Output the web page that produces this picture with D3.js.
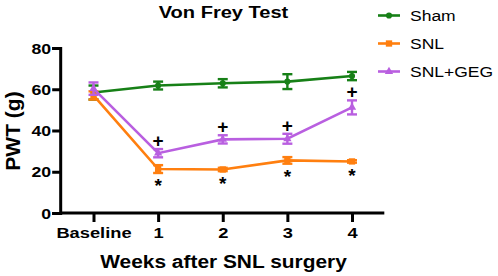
<!DOCTYPE html>
<html><head><meta charset="utf-8">
<script src="https://cdn.jsdelivr.net/npm/d3@7"></script>
<style>body{margin:0;background:#fff;}svg{display:block;font-family:"Liberation Sans",Arial,sans-serif;}</style>
</head><body><svg id="c" width="498" height="276"></svg>
<script>
const categories = ["Baseline","1","2","3","4"];
const shamMean = [58.4, 61.8, 62.9, 63.7, 66.4];
const shamErr  = [3.4, 1.9, 2.0, 3.6, 2.0];
const snlMean  = [57.0, 21.3, 21.1, 25.5, 25.0];
const snlErr   = [2.0, 1.9, 0.8, 1.6, 0.6];
const gegMean  = [60.3, 29.0, 35.7, 36.0, 51.2];
const gegErr   = [3.0, 2.0, 2.0, 2.4, 3.4];
const yTicks = [0,20,40,60,80];
const seriesNames = ["Sham","SNL","SNL+GEG"];
const plusIdx = [1,2,3,4];
const starIdx = [1,2,3,4];

const colors = {"Sham":"#178017","SNL":"#ff7f0f","SNL+GEG":"#b95fe0"};
const series = [
  {name:"Sham", mean:shamMean, err:shamErr, sym:d3.symbolCircle, size:30},
  {name:"SNL", mean:snlMean, err:snlErr, sym:d3.symbolSquare, size:40},
  {name:"SNL+GEG", mean:gegMean, err:gegErr, sym:d3.symbolTriangle, size:30}
];
const FONT = "'Liberation Sans',Arial,sans-serif";

const svg = d3.select("#c");
const x = d3.scalePoint().domain(categories).range([93.5, 352]);
const step = x.step();
const y = d3.scaleLinear().domain([0,80]).range([213, 48]);
const xL = x(categories[0]) - step/2 - 1, xR = x(categories[4]) + step/2;

// axes
const gy = svg.append("g").attr("transform",`translate(${xL},0)`)
  .call(d3.axisLeft(y).tickValues(yTicks).tickSize(8).tickPadding(2));
const gx = svg.append("g").attr("transform",`translate(0,${y(0)})`)
  .call(d3.axisBottom(x).tickSize(9).tickPadding(8));
gx.select(".domain").attr("d",`M${xL},0H${xR}`);
[gy,gx].forEach(g=>{
  g.select(".domain").attr("stroke","#000").attr("stroke-width",3);
  g.selectAll(".tick line").attr("stroke","#000").attr("stroke-width",3);
  g.selectAll("text").attr("fill","#000").attr("font-weight","bold").attr("font-family",FONT);
});
gy.selectAll("text").attr("font-size",14.5).attr("x",0).attr("dy","0.36em")
  .attr("transform","translate(-9,0) scale(1.22,1)");
gx.selectAll("text").attr("font-size",15.5).attr("y",0).attr("dy",0)
  .attr("transform","translate(0,24.7) scale(1.18,1)");

// lines, error bars, markers
series.forEach(s=>{
  const c = colors[s.name];
  const pts = categories.map((k,i)=>({k, m:s.mean[i], e:s.err[i]}));
  svg.append("path").datum(pts).attr("fill","none").attr("stroke",c).attr("stroke-width",2.6)
    .attr("d", d3.line().x(d=>x(d.k)).y(d=>y(d.m)));
  const eb = svg.append("g").attr("stroke",c).attr("stroke-width",2.4);
  pts.forEach(d=>{
    const cx = x(d.k);
    eb.append("line").attr("x1",cx).attr("x2",cx).attr("y1",y(d.m+d.e)).attr("y2",y(d.m-d.e));
    eb.append("line").attr("x1",cx-5).attr("x2",cx+5).attr("y1",y(d.m+d.e)).attr("y2",y(d.m+d.e));
    eb.append("line").attr("x1",cx-5).attr("x2",cx+5).attr("y1",y(d.m-d.e)).attr("y2",y(d.m-d.e));
  });
  svg.append("g").selectAll("path").data(pts).join("path")
    .attr("transform",d=>`translate(${x(d.k)},${y(d.m)})`)
    .attr("d", d3.symbol().type(s.sym).size(s.size)).attr("fill",c);
});

// significance marks
plusIdx.forEach(i=>{
  svg.append("text").attr("x",x(categories[i])).attr("y",y(gegMean[i]+gegErr[i])-2)
    .attr("text-anchor","middle").attr("font-size",19).attr("font-weight","bold").text("+");
});
starIdx.forEach(i=>{
  svg.append("text").attr("x",x(categories[i])).attr("y",y(snlMean[i]-snlErr[i])+19)
    .attr("text-anchor","middle").attr("font-size",19).attr("font-weight","bold").text("*");
});

// titles
svg.append("text").attr("transform","translate(223.5,18) scale(1.18,1)").attr("text-anchor","middle")
  .attr("font-size",17).attr("font-weight","bold").text("Von Frey Test");
svg.append("text").attr("transform","translate(20,131) rotate(-90)").attr("text-anchor","middle")
  .attr("font-size",21).attr("font-weight","bold").text("PWT (g)");
svg.append("text").attr("transform","translate(223.5,267.5) scale(1.1,1)").attr("text-anchor","middle")
  .attr("font-size",19).attr("font-weight","bold").text("Weeks after SNL surgery");

// legend
const lg = svg.append("g");
series.forEach((s,i)=>{
  const ly = 15.5 + i*28;
  const c = colors[s.name];
  lg.append("line").attr("x1",378).attr("x2",400).attr("y1",ly).attr("y2",ly).attr("stroke",c).attr("stroke-width",2.6);
  lg.append("path").attr("transform",`translate(389,${ly})`).attr("d",d3.symbol().type(s.sym).size(s.size)).attr("fill",c);
  lg.append("text").attr("transform",`translate(410,${ly}) scale(1.13,1)`).attr("dy","0.36em")
    .attr("font-size",15.5).text(s.name);
});
</script></body></html>
